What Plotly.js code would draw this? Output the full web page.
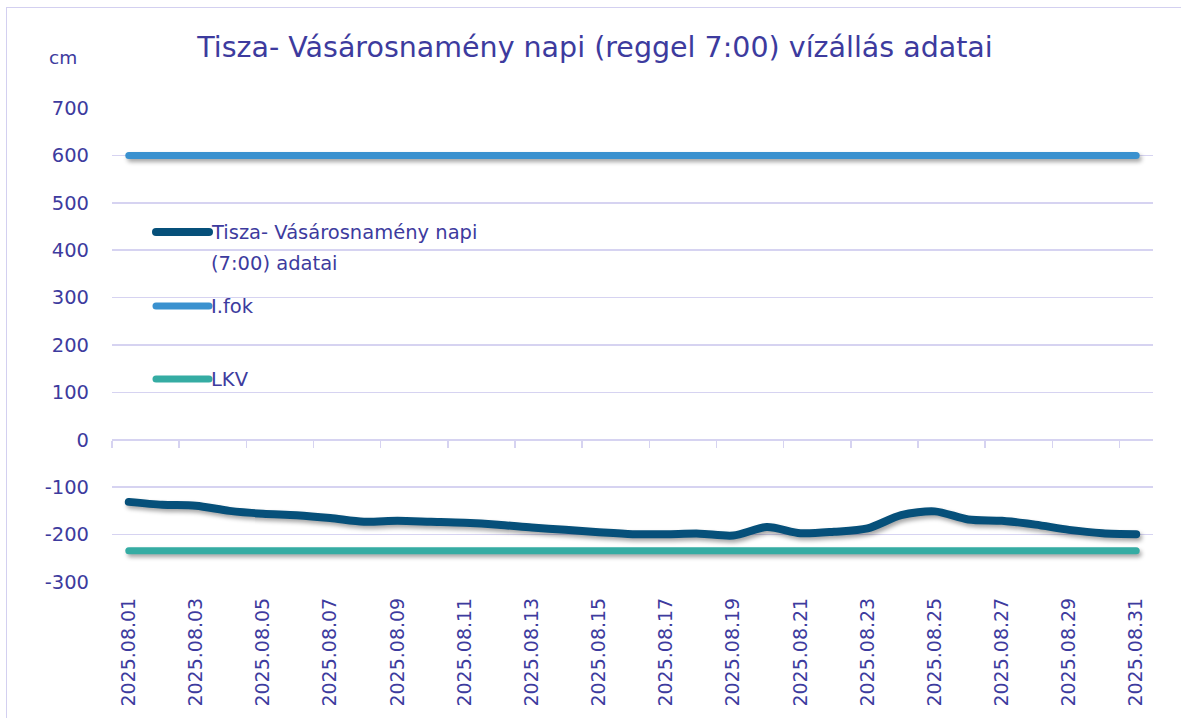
<!DOCTYPE html>
<html><head><meta charset="utf-8">
<script src="https://cdn.plot.ly/plotly-3.0.1.min.js"></script>
<style>
html,body{margin:0;padding:0;overflow:hidden;background:#fff;}
#frame{position:absolute;left:6px;top:7px;width:1300px;height:900px;border:1.5px solid #d3d0f0;}
#chart{position:absolute;left:0;top:0;width:1181px;height:718px;}
.scatterlayer .js-line{stroke-linecap:round;stroke-linejoin:round;filter:drop-shadow(2px 3px 2px rgba(0,0,0,0.35));}
.shapelayer path{stroke-linecap:round;}
</style></head>
<body><div id="frame"></div><div id="chart"></div>
<script>
const dates = ["2025.08.01","2025.08.02","2025.08.03","2025.08.04","2025.08.05","2025.08.06","2025.08.07","2025.08.08","2025.08.09","2025.08.10","2025.08.11","2025.08.12","2025.08.13","2025.08.14","2025.08.15","2025.08.16","2025.08.17","2025.08.18","2025.08.19","2025.08.20","2025.08.21","2025.08.22","2025.08.23","2025.08.24","2025.08.25","2025.08.26","2025.08.27","2025.08.28","2025.08.29","2025.08.30","2025.08.31"];
const waterLevel = [-131,-137,-139,-150,-156,-159,-165,-173,-171,-173,-175,-179,-185,-190,-195,-199,-199,-198,-202,-184,-197,-194,-187,-159,-151,-168,-171,-179,-190,-197,-199];
const iFok = [600,600,600,600,600,600,600,600,600,600,600,600,600,600,600,600,600,600,600,600,600,600,600,600,600,600,600,600,600,600,600];
const lkv = [-234,-234,-234,-234,-234,-234,-234,-234,-234,-234,-234,-234,-234,-234,-234,-234,-234,-234,-234,-234,-234,-234,-234,-234,-234,-234,-234,-234,-234,-234,-234];
const seriesNames = ["Tisza- Vásárosnamény napi (7:00) adatai","I.fok","LKV"];
const yTicks = [-300,-200,-100,0,100,200,300,400,500,600,700];

const TXT = "#3d3b9e";
const GRID = "#d6d3f1";
const C_MAIN = "#06507a", C_FOK = "#3a91cf", C_LKV = "#35aca3";
const FONT = "DejaVu Sans, Verdana, sans-serif";

const W = 1181, H = 718, L = 112, R = 28, T = 108, B = 136;
const pw = W - L - R, ph = H - T - B;
const px = x => (x - L) / pw, py = y => (H - B - y) / ph;

const traces = [
  {x: dates, y: lkv, name: seriesNames[2], mode: "lines", line: {color: C_LKV, width: 7}, hoverinfo: "skip"},
  {x: dates, y: iFok, name: seriesNames[1], mode: "lines", line: {color: C_FOK, width: 7}, hoverinfo: "skip"},
  {x: dates, y: waterLevel, name: seriesNames[0], mode: "lines", line: {color: C_MAIN, width: 8, shape: "spline", smoothing: 0.8}},
  {x: dates, y: waterLevel, xaxis: "x2", mode: "markers", marker: {opacity: 0}, showlegend: false, hoverinfo: "skip"}
];

// manual legend (line samples + labels)
const legendItems = [
  {y: 232, color: C_MAIN, w: 8, lines: ["Tisza- Vásárosnamény napi", "(7:00) adatai"]},
  {y: 306, color: C_FOK, w: 7, lines: ["I.fok"]},
  {y: 379, color: C_LKV, w: 7, lines: ["LKV"]}
];
const shapes = [], annotations = [];
legendItems.forEach(it => {
  shapes.push({type: "line", xref: "paper", yref: "paper", x0: px(156), x1: px(209), y0: py(it.y), y1: py(it.y), line: {color: it.color, width: it.w}});
  it.lines.forEach((t, i) => annotations.push({xref: "paper", yref: "paper", x: px(209), y: py(it.y + i * 31), xanchor: "left", yanchor: "middle", text: t, showarrow: false, font: {family: FONT, size: 19.5, color: TXT}}));
});
annotations.push({xref: "paper", yref: "paper", x: px(63), y: py(57), xanchor: "center", yanchor: "middle", text: "cm", showarrow: false, font: {family: FONT, size: 18.5, color: TXT}});

const layout = {
  width: W, height: H,
  margin: {l: L, r: R, t: T, b: B},
  paper_bgcolor: "rgba(0,0,0,0)", plot_bgcolor: "rgba(0,0,0,0)",
  showlegend: false,
  font: {family: FONT, size: 19, color: TXT},
  title: {text: "Tisza- Vásárosnamény napi (reggel 7:00) vízállás adatai", x: 595 / W, xref: "container", xanchor: "center", y: 1 - 47 / H, yref: "container", yanchor: "middle", font: {family: FONT, size: 28.5, color: TXT}},
  xaxis: {type: "category", categoryorder: "array", categoryarray: dates, range: [-0.5, 30.5], tickmode: "linear", tick0: 0, dtick: 2, tickangle: -90, ticks: "", showgrid: false, showline: false, zeroline: false, ticklabelstandoff: 11, tickfont: {family: FONT, size: 19, color: TXT}, fixedrange: true},
  xaxis2: {type: "category", categoryorder: "array", categoryarray: dates, range: [-0.5, 30.5], overlaying: "x", anchor: "free", position: 0.3, showline: true, linecolor: GRID, linewidth: 1.5, ticks: "outside", ticklen: 7, tickwidth: 1.5, tickcolor: GRID, tickson: "boundaries", tickmode: "linear", tick0: 0, dtick: 2, showticklabels: false, showgrid: false, zeroline: false},
  yaxis: {range: [-300, 700], tickmode: "array", tickvals: yTicks, ticktext: yTicks.map(String), showgrid: true, gridcolor: GRID, gridwidth: 1.5, zeroline: false, showline: false, ticks: "", ticklabelstandoff: 22, tickfont: {family: FONT, size: 19.5, color: TXT}, fixedrange: true},
  shapes: shapes, annotations: annotations
};

Plotly.newPlot("chart", traces, layout, {displayModeBar: false, staticPlot: true});
</script></body></html>
